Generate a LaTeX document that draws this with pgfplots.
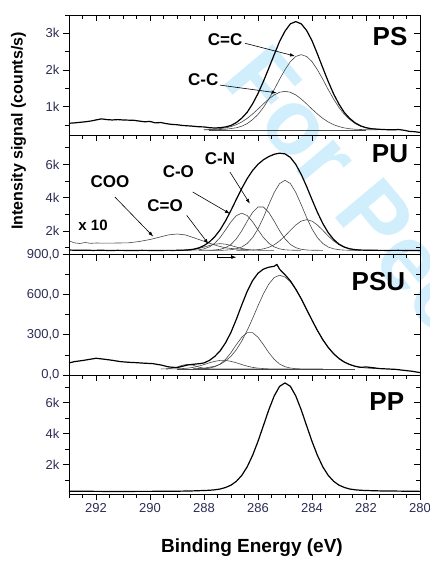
\documentclass[border=0pt]{standalone}
\usepackage{fontspec}
\setmainfont{Liberation Sans}
\usepackage{pgfplots}
\pgfplotsset{compat=1.18}
\usetikzlibrary{arrows.meta}
\definecolor{tlc}{RGB}{45,45,85}
\definecolor{wm}{RGB}{208,238,252}
\definecolor{comp}{RGB}{70,70,70}

\pgfplotsset{
  panel/.style={scale only axis, width=351pt, x dir=reverse, xmin=280, xmax=293,
    xtick={280,282,...,292}, minor xtick={280,280.5,...,293},
    tick align=outside, xtick pos=left, ytick pos=left,
    major tick length=6pt, minor tick length=3.5pt,
    axis line style={line width=0.8pt},
    every tick/.style={black, line width=0.7pt},
    xticklabels={},
    yticklabel style={font=\fontsize{13}{15}\selectfont, text=tlc},
    xticklabel style={font=\fontsize{13}{15}\selectfont, text=tlc},
    anchor=north west},
  over/.style={tick align=inside, xtick pos=right, ytick pos=right, yticklabels={}, xticklabels={}},
  psy/.style={at={(69pt,-15pt)}, height=120pt, ymin=230, ymax=3500, ytick={1000,2000,3000}, minor ytick={500,1500,2500,3500}},
  puy/.style={at={(69pt,-135pt)}, height=119.5pt, ymin=600, ymax=7770, ytick={2000,4000,6000}, minor ytick={1000,3000,5000,7000}},
  psuy/.style={at={(69pt,-254.5pt)}, height=120.5pt, ymin=0, ymax=900, ytick={0,300,600,900}, minor ytick={150,450,750}},
  ppy/.style={at={(69pt,-375pt)}, height=119pt, ymin=120, ymax=7780, ytick={2000,4000,6000}, minor ytick={1000,3000,5000,7000}},
  dat/.style={black, line width=1.2pt, line join=round},
  cmp/.style={comp, line width=0.6pt, line join=round}
}
\tikzset{
  lab/.style={font=\bfseries\fontsize{17}{19}\selectfont, inner sep=0pt},
  big/.style={font=\bfseries\fontsize{26}{28}\selectfont, inner sep=0pt},
  arr/.style={-{Latex[length=5pt,width=3.5pt]}, line width=0.6pt, black}
}

\begin{document}
\begin{tikzpicture}
\useasboundingbox (0,0) rectangle (430pt,-563pt);
\node[rotate=-50, anchor=base west, text=wm, font=\bfseries\fontsize{92}{92}\selectfont, inner sep=0pt] at (220pt,-80pt) {For Peer Review};

% ---------------- PS ----------------
\begin{axis}[panel, psy, yticklabels={1k,2k,3k}]
\addplot[cmp] coordinates {(287.8,370)(282.0,370)};
\addplot[cmp] coordinates {(288.0,370)(287.6,374)(287.2,386)(286.8,427)(286.6,470)(286.4,540)(286.2,650)(286.0,790)(285.8,980)(285.6,1210)(285.4,1470)(285.2,1750)(285.0,2010)(284.8,2230)(284.6,2370)(284.4,2420)(284.2,2370)(284.0,2230)(283.8,2010)(283.6,1750)(283.4,1470)(283.2,1210)(283.0,980)(282.8,790)(282.6,650)(282.4,540)(282.2,470)(282.0,427)(281.6,386)(281.2,374)(280.8,370)};
\addplot[cmp] coordinates {(288.0,374)(287.6,386)(287.2,423)(287.0,459)(286.8,512)(286.6,586)(286.4,683)(286.2,802)(286.0,936)(285.8,1078)(285.6,1211)(285.4,1321)(285.2,1395)(285.0,1420)(284.8,1395)(284.6,1321)(284.4,1211)(284.2,1078)(284.0,936)(283.8,802)(283.6,683)(283.4,586)(283.2,512)(283.0,459)(282.8,423)(282.6,400)(282.4,386)(282.0,374)(281.6,370)};
\addplot[dat] coordinates {(293,550)(292.8,560)(292.6,575)(292.4,590)(292.2,610)(292.0,640)(291.8,670)(291.6,650)(291.4,640)(291.2,650)(291.0,640)(290.8,635)(290.6,630)(290.4,610)(290.2,590)(290.0,600)(289.8,560)(289.6,570)(289.4,540)(289.2,520)(289.0,510)(288.8,490)(288.6,480)(288.4,470)(288.2,455)(288.0,450)(287.8,430)(287.6,420)(287.4,430)(287.2,450)(287.0,490)(286.8,570)(286.6,690)(286.4,850)(286.2,1080)(286.0,1360)(285.8,1690)(285.6,2050)(285.4,2420)(285.2,2780)(285.0,3060)(284.8,3260)(284.6,3320)(284.4,3260)(284.2,3080)(284.0,2800)(283.8,2440)(283.6,2060)(283.4,1690)(283.2,1350)(283.0,1070)(282.8,840)(282.6,680)(282.4,560)(282.2,480)(282.0,430)(281.8,400)(281.6,390)(281.4,380)(281.2,375)(281.0,370)(280.8,380)(280.6,360)(280.4,330)(280.2,320)(280.0,300)};
\node[lab] at (axis cs:287.22,2820) {C=C};
\node[lab] at (axis cs:288.03,1730) {C-C};
\draw[arr] (axis cs:286.48,2730) -- (axis cs:284.63,2380);
\draw[arr] (axis cs:287.41,1590) -- (axis cs:285.31,1380);
\node[big] at (axis cs:281.11,2910) {PS};
\end{axis}
\begin{axis}[panel, psy, over]\end{axis}

% ---------------- PU ----------------
\begin{axis}[panel, puy, yticklabels={2k,4k,6k}]
\addplot[cmp] coordinates {(293,1420)(292.8,1300)(292.6,1260)(292.4,1320)(292.2,1270)(292.0,1290)(291.6,1280)(291.2,1290)(290.8,1300)(290.4,1380)(290.0,1500)(289.6,1660)(289.3,1780)(289.0,1830)(288.7,1780)(288.4,1620)(288.1,1450)(287.8,1280)(287.5,1120)(287.2,1000)(286.8,930)(286.4,900)};
\addplot[cmp] coordinates {(287.8,850)(287.4,851)(287.2,864)(287.0,887)(286.8,943)(286.6,1051)(286.4,1261)(286.2,1614)(286.0,2135)(285.8,2820)(285.6,3592)(285.4,4324)(285.2,4857)(285.0,5050)(284.8,4857)(284.6,4324)(284.4,3592)(284.2,2820)(284.0,2135)(283.8,1614)(283.6,1261)(283.4,1051)(283.2,943)(283.0,887)(282.8,864)(282.6,854)(282.2,850)};
\addplot[cmp] coordinates {(286.8,850)(286.4,856)(286.2,866)(286.0,890)(285.8,938)(285.6,1030)(285.4,1185)(285.2,1413)(285.0,1713)(284.8,2050)(284.6,2370)(284.4,2605)(284.2,2690)(284.0,2605)(283.8,2370)(283.6,2050)(283.4,1713)(283.2,1413)(283.0,1185)(282.8,1030)(282.6,938)(282.4,890)(282.2,866)(282.0,856)(281.6,850)};
\addplot[cmp] coordinates {(288.2,850)(287.8,857)(287.6,872)(287.4,913)(287.2,1011)(287.0,1206)(286.8,1542)(286.6,2025)(286.4,2598)(286.2,3126)(286.0,3448)(285.8,3448)(285.6,3126)(285.4,2598)(285.2,2025)(285.0,1542)(284.8,1206)(284.6,1011)(284.4,913)(284.2,872)(284.0,857)(283.6,850)};
\addplot[cmp] coordinates {(288.8,850)(288.4,860)(288.2,882)(288.0,937)(287.8,1057)(287.6,1278)(287.4,1624)(287.2,2081)(287.0,2563)(286.8,2937)(286.6,3080)(286.4,2937)(286.2,2563)(286.0,2081)(285.8,1624)(285.6,1278)(285.4,1057)(285.2,937)(285.0,882)(284.8,860)(284.4,850)};
\addplot[cmp] coordinates {(289.4,850)(289.0,852)(288.8,858)(288.6,872)(288.4,904)(288.2,961)(288.0,1045)(287.8,1140)(287.6,1219)(287.4,1250)(287.2,1219)(287.0,1140)(286.8,1045)(286.6,961)(286.4,904)(286.2,872)(286.0,858)(285.8,852)(285.4,850)};
\addplot[dat] coordinates {(293,870)(292.7,850)(292.4,860)(292.1,845)(291.8,855)(291.5,840)(291.2,850)(290.9,845)(290.6,840)(290.3,850)(290.0,845)(289.7,840)(289.4,848)(289.1,845)(289.0,852)(288.8,858)(288.6,875)(288.4,914)(288.2,993)(288.0,1134)(287.8,1354)(287.6,1669)(287.4,2087)(287.2,2625)(287.0,3246)(286.8,3917)(286.6,4569)(286.4,5156)(286.2,5641)(286.0,6012)(285.8,6282)(285.6,6476)(285.4,6614)(285.2,6682)(285.0,6637)(284.8,6423)(284.6,6005)(284.4,5410)(284.2,4682)(284.0,3897)(283.8,3134)(283.6,2461)(283.4,1914)(283.2,1506)(283.0,1222)(282.8,1044)(282.6,942)(282.4,890)(282.2,866)(282.0,856)(281.6,850)(281.2,845)(280.8,850)(280.4,840)(280.0,835)};
\node[lab] at (axis cs:291.48,4950) {COO};
\node[lab] at (axis cs:289.44,3550) {C=O};
\node[lab] at (axis cs:288.95,5550) {C-O};
\node[lab] at (axis cs:287.41,6360) {C-N};
\node[lab, font=\bfseries\fontsize{15}{17}\selectfont] at (axis cs:292.11,2340) {x 10};
\draw[arr] (axis cs:291.3,4050) -- (axis cs:289.88,1680);
\draw[arr] (axis cs:288.64,2950) -- (axis cs:287.84,1240);
\draw[arr] (axis cs:288.42,4350) -- (axis cs:287.04,3050);
\draw[arr] (axis cs:287.04,5550) -- (axis cs:286.3,3650);
\node[big] at (axis cs:281.11,6660) {PU};
\end{axis}
\begin{axis}[panel, puy, over]\end{axis}

% ---------------- PSU ----------------
\begin{axis}[panel, psuy, yticklabels={{0,0},{300,0},{600,0},{900,0}}]
\addplot[cmp] coordinates {(289.0,45)(282.4,45)};
\addplot[cmp] coordinates {(288.4,46)(288.0,51)(287.6,65)(287.4,80)(287.2,105)(287.0,140)(286.8,189)(286.6,254)(286.4,333)(286.2,422)(286.0,517)(285.8,606)(285.6,679)(285.4,728)(285.2,745)(285.0,732)(284.8,696)(284.6,639)(284.4,569)(284.2,490)(284.0,410)(283.8,333)(283.6,264)(283.4,206)(283.2,159)(283.0,123)(282.8,96)(282.6,78)(282.4,65)(282.2,57)(282.0,52)(281.6,47)};
\addplot[cmp] coordinates {(288.4,45)(288.2,46)(288.0,47)(287.8,52)(287.6,62)(287.4,82)(287.2,117)(287.0,167)(286.8,227)(286.6,282)(286.4,316)(286.2,316)(286.0,282)(285.8,227)(285.6,167)(285.4,117)(285.2,82)(285.0,62)(284.8,52)(284.6,47)(284.4,46)(284.0,45)(283.6,45)};
\addplot[cmp] coordinates {(289.4,45)(289.0,46)(288.8,48)(288.6,51)(288.4,57)(288.2,66)(288.0,78)(287.8,91)(287.6,102)(287.4,109)(287.2,109)(287.0,102)(286.8,91)(286.6,78)(286.4,66)(286.2,57)(286.0,51)(285.8,48)(285.6,46)(285.2,45)(284.8,45)};
\addplot[cmp] coordinates {(289.6,45)(289.4,46)(289.2,50)(289.0,59)(288.8,73)(288.6,80)(288.4,73)(288.2,59)(288.0,50)(287.8,46)(287.4,45)(286.0,45)};
\addplot[dat] coordinates {(293,90)(292.8,100)(292.5,108)(292.2,118)(292.0,125)(291.7,118)(291.4,110)(291.1,100)(290.8,95)(290.5,92)(290.2,88)(289.9,85)(289.6,75)(289.3,60)(289.0,55)(288.8,65)(288.6,75)(288.4,80)(288.2,84)(288.0,90)(287.8,109)(287.6,139)(287.4,181)(287.2,241)(287.0,319)(286.8,417)(286.6,524)(286.4,625)(286.2,705)(286.0,760)(285.8,791)(285.6,805)(285.4,812)(285.3,826)(285.2,790)(285.0,749)(284.8,703)(284.6,641)(284.4,570)(284.2,490)(284.0,410)(283.8,333)(283.6,264)(283.4,206)(283.2,159)(283.0,123)(282.8,96)(282.6,78)(282.4,65)(282.2,57)(282.0,60)(281.8,56)(281.5,48)(281.2,45)(280.9,42)(280.6,35)(280.3,28)(280.0,18)};
\draw[arr] (axis cs:287.5,880) -- (axis cs:286.8,880);
\node[big] at (axis cs:281.54,696) {PSU};
\end{axis}
\begin{axis}[panel, psuy, over]\end{axis}

% ---------------- PP ----------------
\begin{axis}[panel, ppy, yticklabels={2k,4k,6k}, xticklabels={280,282,284,286,288,290,292}]
\addplot[dat] coordinates {(293,300)(292.5,295)(292,290)(291.5,285)(291,285)(290.5,288)(290,290)(289.5,295)(289,300)(288.5,315)(288.0,345)(287.8,360)(287.6,390)(287.4,440)(287.2,540)(287.0,690)(286.8,940)(286.6,1320)(286.4,1870)(286.2,2610)(286.0,3510)(285.8,4520)(285.6,5540)(285.4,6430)(285.2,7050)(285.0,7270)(284.8,7050)(284.6,6430)(284.4,5540)(284.2,4520)(284.0,3510)(283.8,2610)(283.6,1870)(283.4,1320)(283.2,940)(283.0,690)(282.8,540)(282.6,440)(282.4,390)(282.2,360)(282.0,345)(281.5,320)(281.0,310)(280.5,300)(280.0,290)};
\node[big] at (axis cs:281.23,6060) {PP};
\end{axis}
\begin{axis}[panel, ppy, over]\end{axis}

\node[rotate=90, font=\bfseries\fontsize{16}{18}\selectfont] at (18.5pt,-131pt) {Intensity signal (counts/s)};
\node[font=\bfseries\fontsize{19}{21}\selectfont] at (252pt,-548pt) {Binding Energy (eV)};
\end{tikzpicture}
\end{document}
